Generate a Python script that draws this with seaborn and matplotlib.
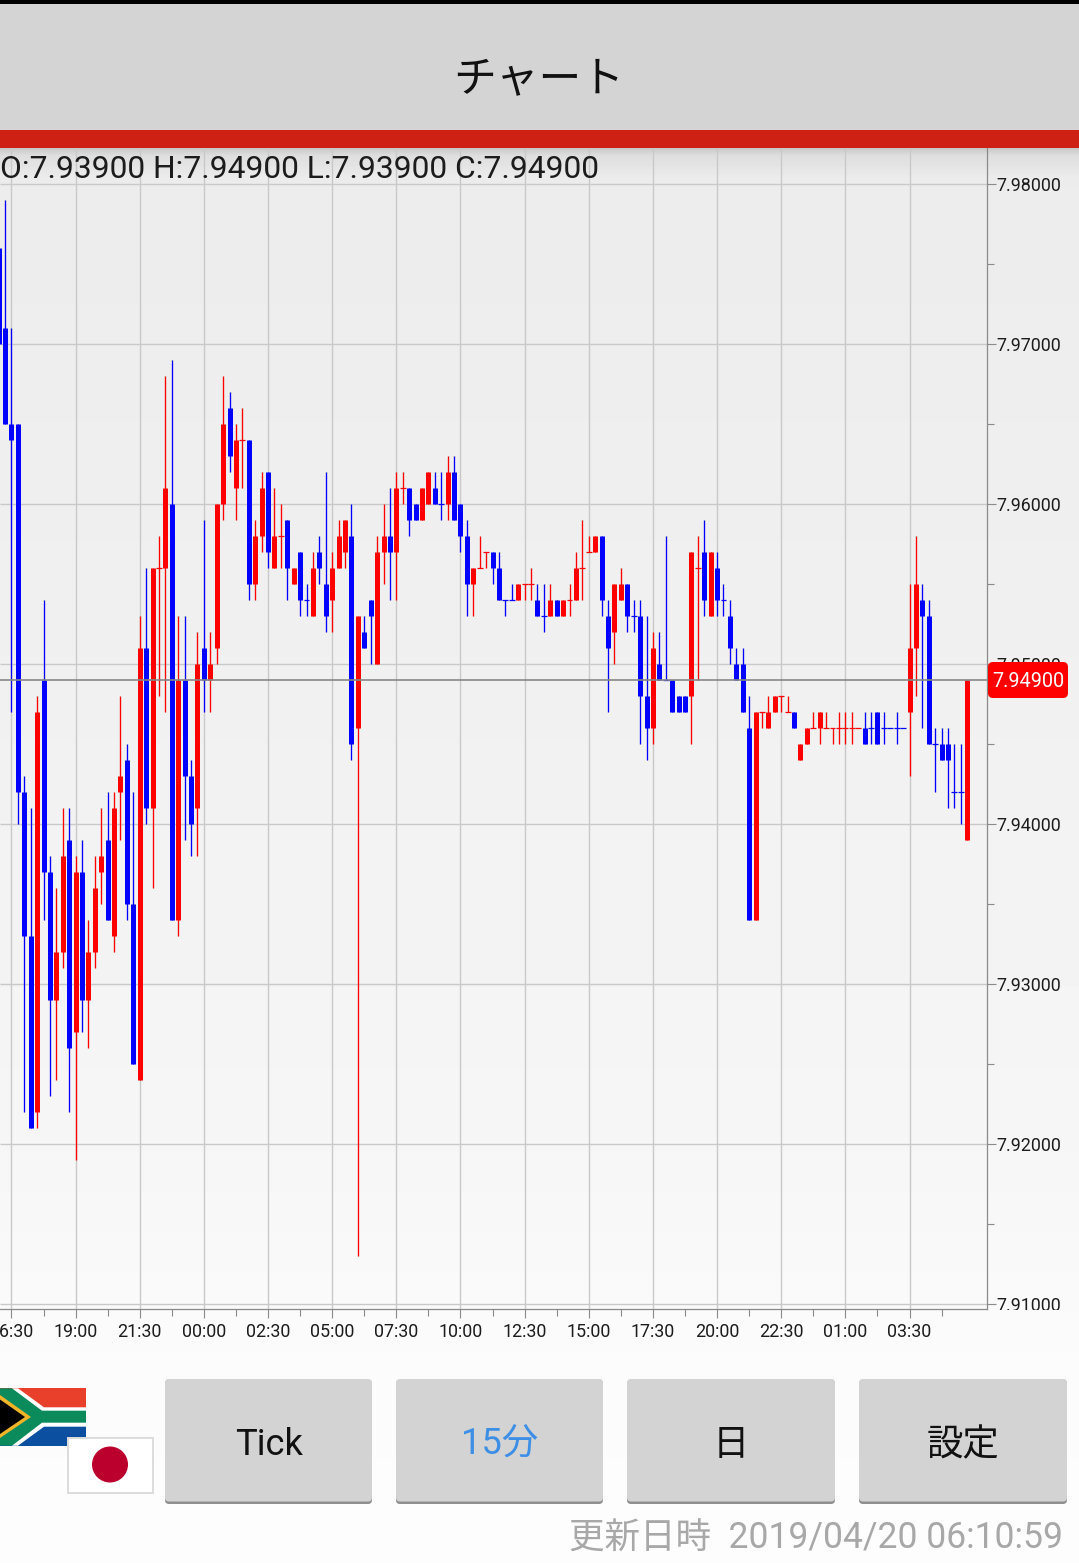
import matplotlib
matplotlib.use("Agg")
import matplotlib.pyplot as plt
import numpy as np
import pandas as pd
import seaborn as sns
from matplotlib.patches import FancyBboxPatch, Polygon, Rectangle, Circle
from matplotlib.transforms import Bbox

WIDTH, HEIGHT = 1079, 1563

# one entry per 15 minute candle, left to right
directions = list(
    "bbbbbbrbbr" "rbrbrrrbrr" "bbrbrrrbrb" "brbrrrbrrb" "rrbrrbrbbr"
    "bbrrrbrbbr" "rbrrbbrrbb" "rbbbrrrbbb" "brrrbbrbrr" "rrrrbbrrbb"
    "bbrbbbbbrr" "brbbbbbbrr" "rrrrbrrrrr" "rrrrrbbbbb" "bbrrbbbbbb" "br"
)
highs = [
    7.976, 7.979, 7.971, 7.965, 7.943, 7.941, 7.948, 7.954, 7.938, 7.936,
    7.941, 7.941, 7.938, 7.939, 7.934, 7.938, 7.941, 7.942, 7.942, 7.948,
    7.945, 7.942, 7.953, 7.956, 7.956, 7.958, 7.968, 7.969, 7.953, 7.953,
    7.944, 7.952, 7.959, 7.952, 7.960, 7.968, 7.967, 7.965, 7.966, 7.964,
    7.959, 7.962, 7.962, 7.961, 7.960, 7.959, 7.956, 7.957, 7.955, 7.957,
    7.958, 7.962, 7.957, 7.959, 7.959, 7.960, 7.953, 7.953, 7.954, 7.958,
    7.960, 7.961, 7.962, 7.962, 7.961, 7.960, 7.961, 7.962, 7.962, 7.962,
    7.963, 7.963, 7.960, 7.959, 7.956, 7.958, 7.957, 7.957, 7.957, 7.954,
    7.955, 7.955, 7.955, 7.956, 7.955, 7.955, 7.955, 7.954, 7.954, 7.955,
    7.957, 7.959, 7.958, 7.958, 7.958, 7.954, 7.955, 7.956, 7.955, 7.954,
    7.954, 7.953, 7.952, 7.952, 7.958, 7.949, 7.948, 7.948, 7.957, 7.958,
    7.959, 7.957, 7.957, 7.955, 7.954, 7.951, 7.951, 7.948, 7.947, 7.947,
    7.948, 7.948, 7.948, 7.948, 7.947, 7.945, 7.946, 7.947, 7.947, 7.947,
    7.946, 7.947, 7.947, 7.947, 7.946, 7.947, 7.947, 7.947, 7.947, 7.946,
    7.947, 7.946, 7.955, 7.958, 7.955, 7.954, 7.946, 7.946, 7.946, 7.945,
    7.945, 7.949,
]
opens = [
    7.976, 7.971, 7.965, 7.965, 7.942, 7.933, 7.922, 7.949, 7.937, 7.929,
    7.932, 7.939, 7.927, 7.937, 7.929, 7.932, 7.937, 7.939, 7.933, 7.942,
    7.944, 7.935, 7.924, 7.951, 7.941, 7.956, 7.956, 7.960, 7.934, 7.949,
    7.943, 7.941, 7.951, 7.949, 7.951, 7.960, 7.966, 7.961, 7.964, 7.964,
    7.955, 7.958, 7.962, 7.956, 7.958, 7.959, 7.955, 7.957, 7.954, 7.953,
    7.957, 7.955, 7.954, 7.956, 7.957, 7.958, 7.946, 7.952, 7.954, 7.950,
    7.957, 7.958, 7.957, 7.961, 7.961, 7.960, 7.959, 7.960, 7.961, 7.960,
    7.960, 7.962, 7.960, 7.958, 7.955, 7.956, 7.957, 7.957, 7.956, 7.954,
    7.954, 7.954, 7.955, 7.955, 7.954, 7.953, 7.953, 7.954, 7.953, 7.954,
    7.954, 7.956, 7.957, 7.957, 7.958, 7.953, 7.952, 7.954, 7.955, 7.953,
    7.953, 7.948, 7.946, 7.950, 7.949, 7.949, 7.948, 7.948, 7.948, 7.956,
    7.957, 7.953, 7.956, 7.954, 7.953, 7.950, 7.950, 7.946, 7.934, 7.947,
    7.946, 7.947, 7.948, 7.947, 7.947, 7.944, 7.945, 7.946, 7.946, 7.946,
    7.946, 7.946, 7.946, 7.946, 7.946, 7.946, 7.946, 7.947, 7.946, 7.946,
    7.946, 7.946, 7.947, 7.951, 7.954, 7.953, 7.945, 7.945, 7.945, 7.942,
    7.942, 7.939,
]
closes = [
    7.970, 7.965, 7.964, 7.942, 7.933, 7.921, 7.947, 7.937, 7.929, 7.932,
    7.938, 7.926, 7.937, 7.929, 7.932, 7.936, 7.938, 7.934, 7.941, 7.943,
    7.935, 7.925, 7.951, 7.941, 7.956, 7.956, 7.961, 7.934, 7.949, 7.943,
    7.940, 7.950, 7.949, 7.950, 7.960, 7.965, 7.963, 7.964, 7.964, 7.955,
    7.958, 7.961, 7.957, 7.958, 7.958, 7.956, 7.956, 7.954, 7.954, 7.956,
    7.956, 7.953, 7.956, 7.958, 7.959, 7.945, 7.953, 7.951, 7.953, 7.957,
    7.958, 7.957, 7.961, 7.961, 7.959, 7.959, 7.961, 7.962, 7.960, 7.960,
    7.962, 7.959, 7.958, 7.955, 7.956, 7.956, 7.957, 7.956, 7.954, 7.954,
    7.954, 7.955, 7.955, 7.955, 7.953, 7.953, 7.954, 7.953, 7.954, 7.954,
    7.956, 7.956, 7.957, 7.958, 7.954, 7.951, 7.955, 7.955, 7.953, 7.953,
    7.948, 7.946, 7.951, 7.949, 7.949, 7.947, 7.947, 7.947, 7.957, 7.956,
    7.954, 7.957, 7.954, 7.954, 7.951, 7.949, 7.947, 7.934, 7.947, 7.947,
    7.947, 7.948, 7.948, 7.947, 7.946, 7.945, 7.946, 7.946, 7.947, 7.946,
    7.946, 7.946, 7.946, 7.946, 7.946, 7.945, 7.946, 7.945, 7.946, 7.946,
    7.946, 7.946, 7.951, 7.955, 7.953, 7.945, 7.945, 7.944, 7.944, 7.942,
    7.942, 7.949,
]
lows = [
    7.970, 7.965, 7.947, 7.940, 7.922, 7.921, 7.921, 7.934, 7.923, 7.924,
    7.931, 7.922, 7.919, 7.927, 7.926, 7.931, 7.935, 7.934, 7.932, 7.939,
    7.934, 7.925, 7.924, 7.940, 7.936, 7.948, 7.947, 7.934, 7.933, 7.939,
    7.938, 7.938, 7.947, 7.947, 7.950, 7.959, 7.962, 7.959, 7.961, 7.954,
    7.954, 7.957, 7.956, 7.956, 7.956, 7.954, 7.955, 7.953, 7.953, 7.953,
    7.955, 7.952, 7.952, 7.956, 7.956, 7.944, 7.913, 7.951, 7.950, 7.950,
    7.955, 7.954, 7.954, 7.960, 7.958, 7.959, 7.959, 7.960, 7.960, 7.959,
    7.959, 7.959, 7.957, 7.953, 7.953, 7.956, 7.956, 7.955, 7.954, 7.953,
    7.954, 7.954, 7.954, 7.954, 7.953, 7.952, 7.953, 7.953, 7.953, 7.953,
    7.954, 7.954, 7.957, 7.957, 7.953, 7.947, 7.950, 7.954, 7.952, 7.952,
    7.945, 7.944, 7.945, 7.949, 7.949, 7.947, 7.947, 7.947, 7.945, 7.949,
    7.953, 7.953, 7.953, 7.953, 7.950, 7.949, 7.947, 7.934, 7.934, 7.946,
    7.946, 7.947, 7.947, 7.947, 7.946, 7.944, 7.945, 7.946, 7.945, 7.946,
    7.945, 7.945, 7.945, 7.945, 7.946, 7.945, 7.945, 7.945, 7.945, 7.946,
    7.945, 7.946, 7.943, 7.948, 7.946, 7.945, 7.942, 7.944, 7.941, 7.941,
    7.940, 7.939,
]

time_labels = ["16:30", "19:00", "21:30", "00:00", "02:30", "05:00", "07:30", "10:00",
               "12:30", "15:00", "17:30", "20:00", "22:30", "01:00", "03:30"]
price_ticks = [7.91, 7.92, 7.93, 7.94, 7.95, 7.96, 7.97, 7.98]
price_minor = [7.915, 7.925, 7.935, 7.945, 7.955, 7.965, 7.975]
last_price = 7.949
button_labels = ["Tick", "15分", "日", "設定"]

UP = "#ff0000"
DOWN = "#0000ff"
GRID = "#c9c9c9"
AXIS = "#8a8a8a"

sns.set_theme(style="white")
plt.rcParams["font.family"] = ["Roboto", "Noto Sans CJK JP", "DejaVu Sans"]
plt.rcParams["lines.solid_capstyle"] = "butt"

per_candle = 6.415
first_x = -1.4

n = len(highs)
idx = np.arange(n)
top = np.maximum(opens, closes)
bottom = np.minimum(opens, closes)

wicks = pd.DataFrame({"idx": np.tile(idx, 2), "price": np.r_[highs, lows],
                      "dir": directions * 2})
has_body = top > bottom
bodies = pd.DataFrame({"idx": np.tile(idx[has_body], 2),
                       "price": np.r_[top[has_body], bottom[has_body]],
                       "dir": [d for d, b in zip(directions, has_body) if b] * 2})
# agg drops a line that lies fully off the canvas, so keep the first candle just on it
bodies["idx"] = bodies["idx"].clip(lower=(-0.9 - first_x) / per_candle)
dojis = pd.DataFrame({"idx": idx[~has_body], "price": top[~has_body],
                      "dir": [d for d, b in zip(directions, has_body) if not b]})
palette = {"r": UP, "b": DOWN}

fig = plt.figure(figsize=(WIDTH / 100, HEIGHT / 100), dpi=100)


def px_axes(zorder):
    a = fig.add_axes([0, 0, 1, 1], zorder=zorder)
    a.set_xlim(0, WIDTH)
    a.set_ylim(HEIGHT, 0)
    a.axis("off")
    return a


# page background, slightly darker towards the top
bg = px_axes(0)
rows = np.arange(HEIGHT)
shade = np.interp(rows, [148, 155, 178, 650, 1150, 1350, 1563],
                  [200, 222, 236, 240, 246, 251, 253]) / 255
bg.imshow(shade[:, None], cmap="gray", vmin=0, vmax=1, aspect="auto",
          extent=[0, WIDTH, HEIGHT, 0])
bg.set_xlim(0, WIDTH)
bg.set_ylim(HEIGHT, 0)

# chart
chart_top, chart_bottom, chart_right = 148, 1309.3, 987.3
y_980 = 184.4  # pixel row of the 7.98000 grid line
ax = fig.add_axes([0, 1 - chart_bottom / HEIGHT, chart_right / WIDTH,
                   (chart_bottom - chart_top) / HEIGHT], zorder=1)
ax.patch.set_alpha(0)

sns.lineplot(data=wicks, x="idx", y="price", hue="dir", units="idx", estimator=None,
             palette=palette, linewidth=0.95, legend=False, sort=False, ax=ax, zorder=3)
sns.lineplot(data=bodies, x="idx", y="price", hue="dir", units="idx", estimator=None,
             palette=palette, linewidth=3.6, legend=False, sort=False, ax=ax, zorder=4)
sns.scatterplot(data=dojis, x="idx", y="price", hue="dir", palette=palette, marker="_",
                s=18, linewidth=0.9, legend=False, ax=ax, zorder=4)

ax.set_xlim(-first_x / per_candle, (chart_right - first_x) / per_candle)
ax.set_ylim(7.98 - (chart_bottom - y_980) / 16000, 7.98 + (y_980 - chart_top) / 16000)
ax.set(xlabel="", ylabel="")

major_x = 2 + 10 * np.arange(len(time_labels))
ax.set_xticks(major_x)
ax.set_xticklabels(time_labels)
ax.set_xticks(7 + 10 * np.arange(len(time_labels)), minor=True)
ax.yaxis.tick_right()
ax.set_yticks(price_ticks)
ax.set_yticklabels([f"{p:.5f}" for p in price_ticks])
ax.set_yticks(price_minor, minor=True)

ax.grid(True, which="major", color=GRID, linewidth=1.0, zorder=1)
ax.set_axisbelow(True)
ax.tick_params(axis="both", which="major", length=6.8, width=0.8, color=AXIS,
               labelsize=12.9, labelcolor="#1c1c1c", left=False, bottom=True, right=True)
ax.tick_params(axis="both", which="minor", length=5.2, width=0.8, color=AXIS,
               left=False, bottom=True, right=True)
ax.tick_params(axis="y", which="major", pad=0)
ax.tick_params(axis="x", which="major", pad=3.0)
for name in ["top", "left"]:
    ax.spines[name].set_visible(False)
for name in ["right", "bottom"]:
    ax.spines[name].set_color(AXIS)
    ax.spines[name].set_linewidth(0.9)

# the lowest price label is cut off by the end of the chart area
clip = Bbox([[0, HEIGHT - 1309.5], [WIDTH, HEIGHT]])
for label in ax.get_yticklabels():
    label.set_clip_box(clip)
    label.set_clip_on(True)

ax.axhline(last_price, color="#858585", linewidth=1.3, alpha=0.9, zorder=6)

# surrounding app screen
ui = px_axes(2)
ui.add_patch(Rectangle((0, 0), WIDTH, 4, color="#000000", lw=0))
ui.add_patch(Rectangle((0, 4), WIDTH, 126, color="#d4d4d4", lw=0))
ui.add_patch(Rectangle((0, 130), WIDTH, 18, color="#cf2014", lw=0))
ui.text(539, 81, "チャート", fontsize=30.8, color="#111111", ha="center", va="center")
ui.text(0, 169, f"O:{opens[-1]:.5f} H:{highs[-1]:.5f} L:{lows[-1]:.5f} C:{closes[-1]:.5f}",
        fontsize=22.9, color="#1c1c1c", ha="left", va="center")

# current price flag
ui.add_patch(FancyBboxPatch((988, 662), 80, 36, boxstyle="round,pad=0,rounding_size=5",
                            fc="#ff0000", ec="none"))
ui.text(1028, 681.5, f"{last_price:.5f}", fontsize=14.3, color="white", ha="center", va="center")

# currency flags
ui.add_patch(Rectangle((0, 1388.3), 86, 28.7, color="#e8402a", lw=0))
ui.add_patch(Rectangle((0, 1417), 86, 28.7, color="#0a4fa0", lw=0))
ui.add_patch(Polygon([(12, 1388.3), (18, 1388.3), (44, 1407.3), (86, 1407.3), (86, 1426.7),
                      (44, 1426.7), (18, 1445.7), (12, 1445.7)], color="white", lw=0))
ui.add_patch(Polygon([(0, 1388.3), (12, 1388.3), (42, 1410.7), (86, 1410.7), (86, 1422.7),
                      (42, 1422.7), (12, 1445.7), (0, 1445.7)], color="#0b8a5c", lw=0))
ui.add_patch(Polygon([(0, 1395), (31, 1417), (0, 1438)], color="#f0b429", lw=0))
ui.add_patch(Polygon([(0, 1399.5), (25, 1417), (0, 1434)], color="#000000", lw=0))
ui.add_patch(Rectangle((67.5, 1437.5), 85, 55, fc="white", ec="#dcdcdc", lw=1.4))
ui.add_patch(Circle((110, 1464.5), 18, color="#bc002d", lw=0))

# buttons
button_left = [165, 396, 627, 859]
button_right = [372, 603, 835, 1067]
text_colors = ["#111111", "#3d8fe6", "#111111", "#111111"]
for left, right, text, color in zip(button_left, button_right, button_labels, text_colors):
    ui.add_patch(FancyBboxPatch((left, 1380), right - left, 124,
                                boxstyle="round,pad=0,rounding_size=4", fc="#8f8f8f", ec="none"))
    ui.add_patch(FancyBboxPatch((left, 1379), right - left, 122.5,
                                boxstyle="round,pad=0,rounding_size=4", fc="#d3d3d3", ec="none"))
    ui.text((left + right) / 2, 1445, text, fontsize=26.2, color=color, ha="center", va="center")

ui.text(1063, 1539, "更新日時  2019/04/20 06:10:59", fontsize=25.6, color="#a8a8a8",
        ha="right", va="center")

fig.savefig("out.png", dpi=100)
